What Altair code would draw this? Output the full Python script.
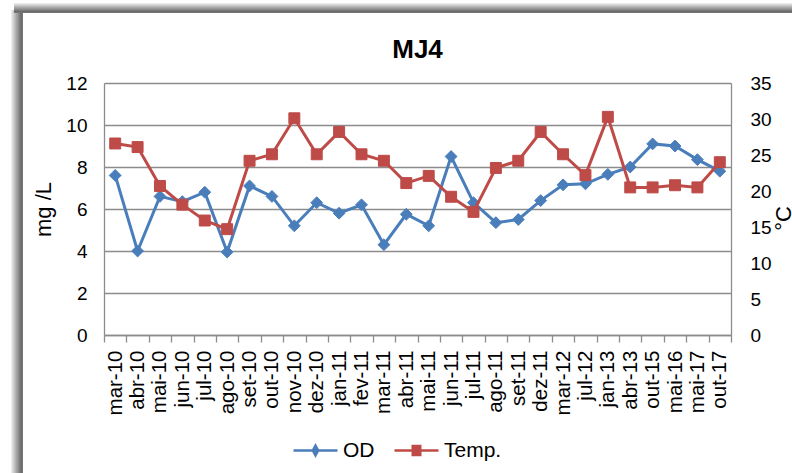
import altair as alt
import pandas as pd

categories = ["mar-10", "abr-10", "mai-10", "jun-10", "jul-10", "ago-10", "set-10",
              "out-10", "nov-10", "dez-10", "jan-11", "fev-11", "mar-11", "abr-11",
              "mai-11", "jun-11", "jul-11", "ago-11", "set-11", "dez-11", "mar-12",
              "jul-12", "jan-13", "abr-13", "out-15", "mai-16", "mai-17", "out-17"]
od = [7.6, 4.0, 6.6, 6.35, 6.8, 3.95, 7.1, 6.6, 5.2, 6.3, 5.8, 6.2, 4.3, 5.75,
      5.2, 8.5, 6.3, 5.35, 5.5, 6.4, 7.15, 7.2, 7.65, 8.0, 9.1, 9.0, 8.35, 7.8]
temp = [26.6, 26.1, 20.7, 18.1, 15.9, 14.7, 24.2, 25.1, 30.1, 25.1, 28.2, 25.1,
        24.2, 21.1, 22.1, 19.2, 17.1, 23.2, 24.2, 28.2, 25.1, 22.2, 30.3, 20.5,
        20.5, 20.8, 20.5, 24.0]
series = ["OD", "Temp."]
colors = ["#4A7EBB", "#BE4B48"]
left_ticks = [0, 2, 4, 6, 8, 10, 12]
right_ticks = [0, 5, 10, 15, 20, 25, 30, 35]

df = pd.DataFrame({"cat": categories, "OD": od, "Temp": temp,
                   "s_od": series[0], "s_t": series[1]})

FONT = "Liberation Sans"
GRAY = "#8c8c8c"

x_enc = alt.X("cat:N", sort=categories, title=None,
              scale=alt.Scale(type="band", paddingInner=0, paddingOuter=0),
              axis=alt.Axis(labelAngle=270, labelFontSize=20.5, labelFont=FONT,
                            labelColor="#000000", tickBand="extent", tickSize=7,
                            tickColor=GRAY, tickWidth=1.3, domainColor=GRAY,
                            domainWidth=1.3, labelPadding=8, grid=False))


def make_legend(path, color, lx):
    return alt.Legend(
        title=None, orient="none", direction="horizontal", legendX=lx, legendY=344,
        symbolType=path, symbolSize=1936, symbolStrokeColor=color,
        symbolFillColor=color, symbolStrokeWidth=2.5, symbolOpacity=1,
        labelFontSize=21, labelFont=FONT, labelColor="#000000",
        labelOffset=4, padding=0)


leg_od = make_legend("M-1,0H1M0,-0.22L0.12,0L0,0.22L-0.12,0Z", colors[0], 188)
leg_t = make_legend("M-1,0H1M-0.17,-0.2H0.17V0.2H-0.17Z", colors[1], 289)

y_od = alt.Y("OD:Q", title="mg /L",
             scale=alt.Scale(domain=[0, 12], nice=False),
             axis=alt.Axis(values=left_ticks, orient="left", grid=True,
                           gridColor=GRAY, gridWidth=1.3, tickSize=0,
                           domainColor=GRAY, domainWidth=1.3,
                           labelFontSize=19, labelFont=FONT, labelColor="#000000",
                           labelPadding=17, titleFontSize=22, titleFont=FONT,
                           titleFontWeight="normal", titleColor="#000000",
                           titlePadding=10))
y_t = alt.Y("Temp:Q", title="°C",
            scale=alt.Scale(domain=[0, 35], nice=False),
            axis=alt.Axis(values=right_ticks, orient="right", grid=False,
                          tickSize=0, domainColor=GRAY, domainWidth=1.3,
                          labelFontSize=19, labelFont=FONT, labelColor="#000000",
                          labelPadding=19, titleFontSize=22, titleFont=FONT,
                          titleFontWeight="normal", titleColor="#000000",
                          titleAngle=270, titleBaseline="top", titlePadding=2,
                          titleY=135))

base = alt.Chart(df)
od_line = base.mark_line(color=colors[0], strokeWidth=3).encode(x=x_enc, y=y_od)
od_pts = base.mark_point(shape="diamond", filled=True, size=140, opacity=1,
                         stroke=colors[0], strokeWidth=1).encode(
    x=x_enc, y=y_od,
    color=alt.Color("s_od:N", scale=alt.Scale(domain=[series[0]], range=[colors[0]]),
                    legend=leg_od))
t_line = base.mark_line(color=colors[1], strokeWidth=3).encode(x=x_enc, y=y_t)
t_pts = base.mark_square(size=120, opacity=1, stroke=colors[1], strokeWidth=1).encode(
    x=x_enc, y=y_t,
    fill=alt.Fill("s_t:N", scale=alt.Scale(domain=[series[1]], range=[colors[1]]),
                  legend=leg_t))

stops = [alt.GradientStop(color="#f2f2f2", offset=0),
         alt.GradientStop(color="#a0a0a0", offset=0.5),
         alt.GradientStop(color="#6a6a6a", offset=0.85),
         alt.GradientStop(color="#7a7a7a", offset=1)]
grad_h = alt.LinearGradient(gradient="linear", x1=0, x2=1, y1=0, y2=0, stops=stops)
grad_v = alt.LinearGradient(gradient="linear", x1=0, x2=0, y1=0, y2=1, stops=stops)
frame_left = alt.Chart().mark_rect(fill=grad_h).encode(
    x=alt.value(-93), x2=alt.value(-81), y=alt.value(-73), y2=alt.value(390))
frame_top = alt.Chart().mark_rect(fill=grad_v).encode(
    x=alt.value(-90), x2=alt.value(690), y=alt.value(-80), y2=alt.value(-70))

od_layer = alt.layer(od_line, od_pts)
t_layer = alt.layer(t_line, t_pts)

chart = alt.layer(frame_left, frame_top, od_layer, t_layer).resolve_scale(
    y="independent"
).properties(
    width=627, height=252,
    title=alt.TitleParams("MJ4", font=FONT, fontSize=26, fontWeight="bold",
                          color="#000000", anchor="middle", frame="group",
                          baseline="alphabetic", offset=-81),
    padding={"left": 104, "top": 83, "right": 61, "bottom": 138},
    autosize=alt.AutoSizeParams(type="none"),
    background="#ffffff",
).configure_view(stroke=None)

chart.save("out.html", embed_options={"renderer": "svg", "actions": False})
